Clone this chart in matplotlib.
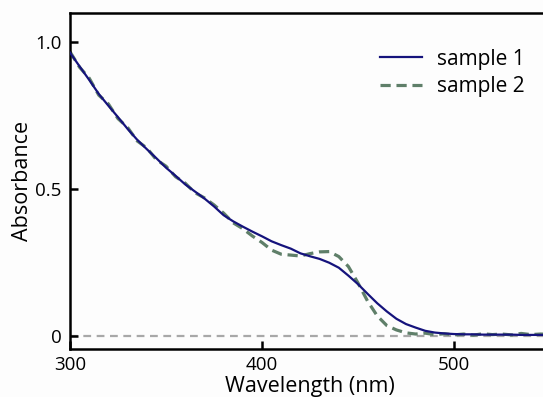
import matplotlib
matplotlib.use("Agg")
import matplotlib.pyplot as plt

plt.rcParams['font.family'] = ['Open Sans', 'DejaVu Sans']

wavelength = [300, 305, 310, 315, 320, 325, 330, 335, 340, 345, 350, 355, 360, 365, 370,
              375, 380, 385, 390, 395, 400, 405, 410, 415, 420, 425, 430, 435, 440, 445,
              450, 455, 460, 465, 470, 475, 480, 485, 490, 495, 500, 505, 510, 515, 520,
              525, 530, 535, 540, 545, 550]

sample1 = [0.965, 0.918, 0.872, 0.824, 0.784, 0.745, 0.705, 0.668, 0.636, 0.605, 0.573,
           0.545, 0.516, 0.492, 0.468, 0.441, 0.411, 0.390, 0.372, 0.355, 0.339, 0.322,
           0.309, 0.297, 0.281, 0.271, 0.262, 0.249, 0.232, 0.205, 0.176, 0.143, 0.111,
           0.083, 0.058, 0.040, 0.028, 0.017, 0.011, 0.008, 0.006, 0.005, 0.005, 0.004,
           0.004, 0.004, 0.004, 0.003, 0.003, 0.003, 0.003]

sample2 = [0.968, 0.915, 0.878, 0.820, 0.790, 0.740, 0.710, 0.664, 0.640, 0.600, 0.578,
           0.542, 0.520, 0.488, 0.470, 0.446, 0.418, 0.385, 0.365, 0.340, 0.318, 0.292,
           0.278, 0.275, 0.272, 0.280, 0.286, 0.287, 0.270, 0.236, 0.180, 0.118, 0.068,
           0.035, 0.020, 0.010, 0.006, 0.009, 0.004, 0.007, 0.003, 0.006, 0.002, 0.007,
           0.004, 0.006, 0.003, 0.008, 0.004, 0.006, 0.005]

labels = ["sample 1", "sample 2"]
xticks = [300, 400, 500]
yticks = [0, 0.5, 1.0]
yticklabels = ["0", "0.5", "1.0"]

fig = plt.figure(figsize=(5.43, 3.97), dpi=100)
fig.patch.set_facecolor('#fdfdfd')
ax = fig.add_axes([70/543, 1 - 349/397, 480/543, 336/397])
ax.set_facecolor('#fdfdfd')

ax.axhline(0, color='#a8a8a8', lw=1.6, ls=(0, (3.5, 2.5)), zorder=1)
ax.plot(wavelength, sample1, color='#15137c', lw=1.6, label=labels[0], zorder=3)
ax.plot(wavelength, sample2, color='#5f7f69', lw=2.3, ls=(0, (3.2, 1.8)), label=labels[1], zorder=2)

ax.set_xlim(300, 550)
ax.set_ylim(-0.045, 1.1)
ax.set_xticks(xticks)
ax.set_yticks(yticks)
ax.set_yticklabels(yticklabels)
ax.tick_params(direction='in', length=6, width=1.8, labelsize=13.5)
ax.tick_params(axis='x', pad=5)
ax.tick_params(axis='y', pad=6)

for s in ['left', 'bottom', 'top', 'right']:
    ax.spines[s].set_linewidth(1.8)

ax.set_xlabel("Wavelength (nm)", fontsize=15.5, labelpad=1.5)
ax.set_ylabel("Absorbance", fontsize=15.5, labelpad=2)

ax.legend(loc='upper left', bbox_to_anchor=(0.646, 0.894), frameon=False, fontsize=15,
          borderpad=0, borderaxespad=0, handlelength=2.0, handletextpad=0.75, labelspacing=0.33)

fig.savefig("out.png", dpi=100, facecolor=fig.get_facecolor())
